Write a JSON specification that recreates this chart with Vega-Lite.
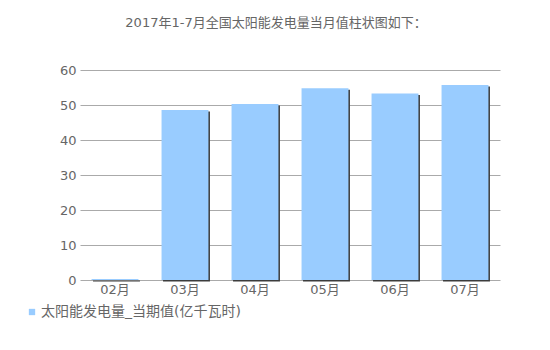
{
  "$schema": "https://vega.github.io/schema/vega-lite/v6.json",
  "width": 420,
  "height": 210,
  "autosize": {"type": "none"},
  "padding": {"left": 80, "top": 70, "right": 50, "bottom": 70},
  "background": "white",
  "config": {
    "view": {"stroke": null},
    "font": "DejaVu Sans, Noto Sans CJK SC"
  },
  "title": {
    "text": "2017年1-7月全国太阳能发电量当月值柱状图如下：",
    "fontSize": 13,
    "fontWeight": "normal",
    "color": "#666666",
    "anchor": "middle",
    "offset": 34,
    "dx": -14
  },
  "data": {
    "values": [
      {"月份": "02月", "值": 0.3, "系列": "太阳能发电量_当期值(亿千瓦时)"},
      {"月份": "03月", "值": 48.6, "系列": "太阳能发电量_当期值(亿千瓦时)"},
      {"月份": "04月", "值": 50.3, "系列": "太阳能发电量_当期值(亿千瓦时)"},
      {"月份": "05月", "值": 54.8, "系列": "太阳能发电量_当期值(亿千瓦时)"},
      {"月份": "06月", "值": 53.3, "系列": "太阳能发电量_当期值(亿千瓦时)"},
      {"月份": "07月", "值": 55.7, "系列": "太阳能发电量_当期值(亿千瓦时)"}
    ]
  },
  "encoding": {
    "x": {
      "field": "月份",
      "type": "nominal",
      "sort": null,
      "scale": {"paddingInner": 0.33, "paddingOuter": 0.165},
      "axis": {
        "title": null,
        "labelAngle": 0,
        "domain": false,
        "ticks": false,
        "grid": false,
        "labelFontSize": 13,
        "labelColor": "#666666",
        "labelPadding": 3
      }
    },
    "y": {
      "field": "值",
      "type": "quantitative",
      "scale": {"domain": [0, 60]},
      "axis": {
        "title": null,
        "values": [0, 10, 20, 30, 40, 50, 60],
        "domain": false,
        "ticks": false,
        "grid": true,
        "gridColor": "#aaaaaa",
        "gridWidth": 1,
        "labelFontSize": 13,
        "labelColor": "#666666",
        "labelPadding": 4
      }
    }
  },
  "layer": [
    {
      "mark": {"type": "bar", "color": "#3c3c3c", "xOffset": 1.5, "yOffset": 1.5},
      "encoding": {}
    },
    {
      "mark": {"type": "bar"},
      "encoding": {
        "color": {
          "field": "系列",
          "type": "nominal",
          "scale": {"range": ["#99ccff"]},
          "legend": {
            "title": null,
            "orient": "none",
            "legendX": -55,
            "legendY": 235,
            "symbolType": "square",
            "symbolSize": 40,
            "symbolStrokeWidth": 0,
            "labelFontSize": 14,
            "labelColor": "#666666",
            "labelOffset": 2,
            "labelLimit": 400
          }
        }
      }
    }
  ]
}
